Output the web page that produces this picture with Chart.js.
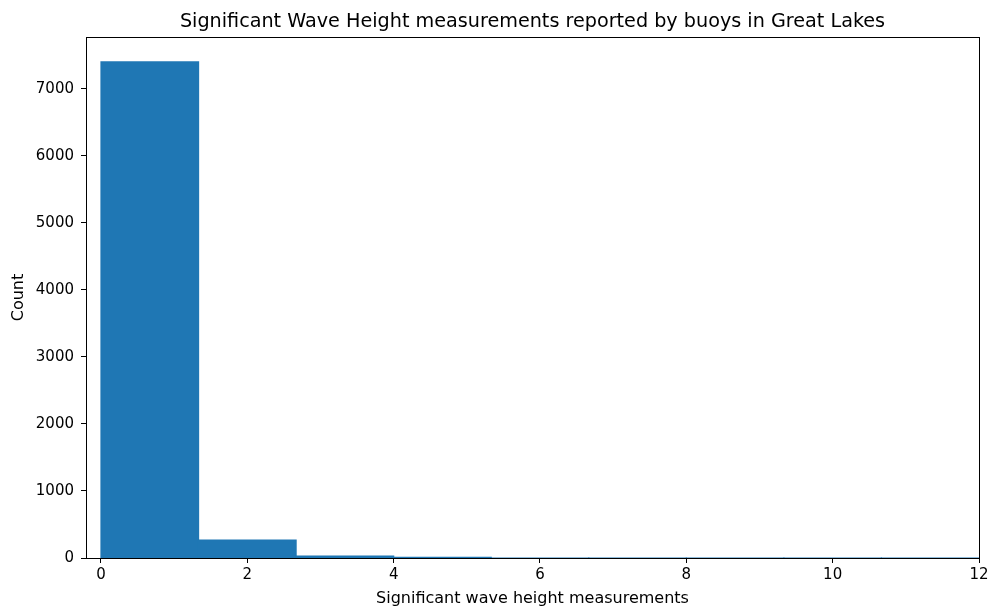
<!DOCTYPE html>
<html>
<head>
<meta charset="utf-8">
<script src="https://cdn.jsdelivr.net/npm/chart.js@4"></script>
<style>
  html, body { margin: 0; padding: 0; background: #fff; }
  #wrap { width: 994px; height: 610px; }
</style>
</head>
<body>
<div id="wrap"><canvas id="c" width="994" height="610"></canvas></div>
<script>
// Histogram of significant wave height (m): bin edges and counts per bin
const binEdges = [0, 1.3333, 2.6667, 4.0, 5.3333, 6.6667, 8.0, 9.3333, 10.6667, 12.0];
const binCounts = [7400, 266, 30, 10, 0, 0, 0, 0, 0];
const xTicks = [0, 2, 4, 6, 8, 10, 12];
const yTicks = [0, 1000, 2000, 3000, 4000, 5000, 6000, 7000];
const chartTitle = 'Significant Wave Height measurements reported by buoys in Great Lakes';

const barPoints = binCounts.map((c, i) => ({ x: (binEdges[i] + binEdges[i + 1]) / 2, y: c }));

const FONT = "'DejaVu Sans', sans-serif";

// Axes frame plus a title centred over the plotting area
const framePlugin = {
  id: 'frame',
  afterDraw(chart) {
    const { ctx, chartArea: a } = chart;
    ctx.save();
    ctx.strokeStyle = '#000';
    ctx.lineWidth = 1;
    ctx.strokeRect(Math.round(a.left) + 0.5, Math.round(a.top) + 0.5,
                   Math.round(a.right - a.left), Math.round(a.bottom - a.top));
    ctx.fillStyle = '#000';
    ctx.font = '19.2px ' + FONT;
    ctx.textAlign = 'center';
    ctx.textBaseline = 'alphabetic';
    ctx.fillText(chartTitle, (a.left + a.right) / 2, 27);
    ctx.restore();
  }
};

new Chart(document.getElementById('c'), {
  type: 'bar',
  data: {
    datasets: [{
      data: barPoints,
      backgroundColor: '#1f77b4',
      borderWidth: 0,
      inflateAmount: 0.6,
      barPercentage: 1.0,
      categoryPercentage: 1.0
    }]
  },
  options: {
    responsive: false,
    animation: false,
    layout: { padding: { left: 0, right: 15, top: 37, bottom: 0 } },
    plugins: {
      legend: { display: false },
      tooltip: { enabled: false },
      title: { display: false }
    },
    scales: {
      x: {
        type: 'linear',
        offset: false,
        min: -0.205,
        max: 12,
        afterFit(scale) { scale.height = 52; },
        afterBuildTicks(scale) { scale.ticks = xTicks.map(v => ({ value: v })); },
        ticks: {
          color: '#000',
          font: { family: FONT, size: 15 },
          padding: 3,
          maxRotation: 0,
          autoSkip: false,
          callback: v => String(v)
        },
        grid: { display: true, offset: false, drawOnChartArea: false, drawTicks: true, tickLength: 5, color: '#000' },
        border: { display: true, color: '#000' },
        title: {
          display: true,
          text: 'Significant wave height measurements',
          color: '#000',
          font: { family: FONT, size: 16 },
          padding: { top: 2, bottom: 2 }
        }
      },
      y: {
        type: 'linear',
        min: 0,
        max: 7770,
        afterFit(scale) { scale.width = 86; },
        afterBuildTicks(scale) { scale.ticks = yTicks.map(v => ({ value: v })); },
        ticks: {
          color: '#000',
          font: { family: FONT, size: 15 },
          padding: 7,
          autoSkip: false,
          callback: v => String(v)
        },
        grid: { display: true, drawOnChartArea: false, drawTicks: true, tickLength: 5, color: '#000' },
        border: { display: true, color: '#000' },
        title: {
          display: true,
          text: 'Count',
          color: '#000',
          font: { family: FONT, size: 16 },
          padding: { top: 9, bottom: 4 }
        }
      }
    }
  },
  plugins: [framePlugin]
});
</script>
</body>
</html>
